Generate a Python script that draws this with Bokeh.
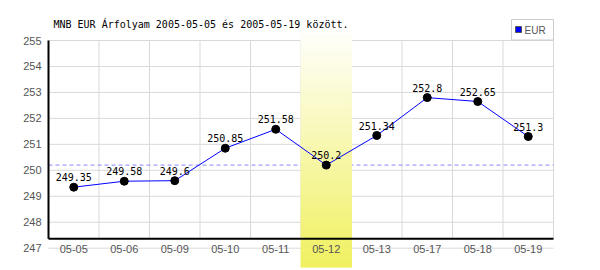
import numpy as np
from bokeh.plotting import figure
from bokeh.models import Range1d, FixedTicker, LinearAxis
from bokeh.core.properties import value
from bokeh.embed import file_html
from bokeh.resources import INLINE

# ---------------- data ----------------
title_text = "MNB EUR Árfolyam 2005-05-05 és 2005-05-19 között."
dates = ["05-05", "05-06", "05-09", "05-10", "05-11",
         "05-12", "05-13", "05-17", "05-18", "05-19"]
rates = [249.35, 249.58, 249.6, 250.85, 251.58,
         250.2, 251.34, 252.8, 252.65, 251.3]
y_ticks = [247, 248, 249, 250, 251, 252, 253, 254, 255]
highlight_date = "05-12"
reference_rate = 250.2
series_name = "EUR"

# ---------------- layout (screen px) ----------------
W, H = 600, 270
FRAME_L, FRAME_R, FRAME_T, FRAME_B = 46, 555, 17, 267
GRID_L = 48          # screen x of first category boundary
CAT_W = 50.5         # px per category
GRID_TOP_SY = 40     # screen y of top tick
Y_PX = 25.96         # px per unit
AXIS_SY = 238.3      # screen y of black x axis line
BAND_TOP_SY = 25

n = len(dates)


def sx_to_data(sx):
    return (sx - GRID_L) / CAT_W


def sy_to_data(sy):
    return y_ticks[-1] - (sy - GRID_TOP_SY) / Y_PX


x_range = Range1d(sx_to_data(FRAME_L), sx_to_data(FRAME_R))
y_range = Range1d(sy_to_data(FRAME_B), sy_to_data(FRAME_T))

p = figure(width=W, height=H, x_range=x_range, y_range=y_range,
           toolbar_location=None, output_backend="svg",
           x_axis_location=None, y_axis_location=None,
           min_border_left=FRAME_L, min_border_right=W - FRAME_R,
           min_border_top=FRAME_T, min_border_bottom=H - FRAME_B)
p.grid.visible = False
p.outline_line_color = None
p.background_fill_color = "white"
p.border_fill_color = "white"

grid_color = "#d9d9d9"
axis_y = sy_to_data(AXIS_SY)
xs = np.arange(n) + 0.5

# horizontal grid lines
p.segment(x0=[0] * len(y_ticks), x1=[n] * len(y_ticks), y0=y_ticks, y1=y_ticks,
          line_color=grid_color, line_width=1)
# vertical grid lines
bounds = np.arange(1, n + 1)
p.segment(x0=bounds, x1=bounds, y0=[axis_y] * n, y1=[y_ticks[-1]] * n,
          line_color=grid_color, line_width=1)
# reference dashed line
p.segment(x0=[0], x1=[n], y0=[reference_rate], y1=[reference_rate],
          line_color="#8888ff", line_width=1, line_dash="4 3")

# highlight band with vertical gradient
idx = dates.index(highlight_date)
N = 60
edges = np.linspace(sy_to_data(FRAME_B), sy_to_data(BAND_TOP_SY), N + 1)
bottom_rgb = np.array([240, 240, 96])
top_rgb = np.array([255, 255, 255])
cols = []
for i in range(N):
    t = (i + 0.5) / N
    c = bottom_rgb * (1 - t) + top_rgb * t
    cols.append("#%02x%02x%02x" % tuple(int(round(v)) for v in c))
p.quad(left=[idx] * N, right=[idx + 1] * N, bottom=edges[:-1], top=edges[1:],
       fill_color=cols, line_color=cols, line_width=1)

# black axis lines
p.segment(x0=[0], x1=[0], y0=[axis_y], y1=[y_ticks[-1]], line_color="black", line_width=2)
p.segment(x0=[0], x1=[n], y0=[axis_y], y1=[axis_y], line_color="black", line_width=2)

# data
p.line(xs, rates, line_color="#0000ff", line_width=1)
p.scatter(xs, rates, size=8, fill_color="black", line_color="black")
p.text(x=xs, y=np.array(rates) + 10 / Y_PX, text=[f"{v:g}" for v in rates],
       text_align="center", text_baseline="middle",
       text_font=value("DejaVu Sans Mono"), text_font_size="10px", text_color="black")

# x tick labels
p.text(x=xs, y=[sy_to_data(248)] * n, text=dates,
       text_align="center", text_baseline="middle",
       text_font=value("Liberation Sans"), text_font_size="11px", text_color="#555555")

# title
p.text(x=[sx_to_data(53)], y=[sy_to_data(23.5)], text=[title_text],
       text_align="left", text_baseline="middle",
       text_font=value("DejaVu Sans Mono"), text_font_size="10px", text_color="black")

# y axis (labels only)
yaxis = LinearAxis(ticker=FixedTicker(ticks=y_ticks),
                   axis_line_color=None, major_tick_line_color=None,
                   minor_tick_line_color=None, major_tick_out=0, major_tick_in=0,
                   major_label_standoff=5,
                   major_label_text_font="Liberation Sans",
                   major_label_text_font_size="11px",
                   major_label_text_color="#555555")
p.add_layout(yaxis, "left")

# legend box (drawn with glyphs)
LEG_L, LEG_R, LEG_T, LEG_B = 511, 553, 19, 39.5
p.quad(left=[sx_to_data(LEG_L)], right=[sx_to_data(LEG_R)],
       top=[sy_to_data(LEG_T)], bottom=[sy_to_data(LEG_B)],
       fill_color="white", line_color="#cccccc", line_width=1)
p.quad(left=[sx_to_data(515)], right=[sx_to_data(521)],
       top=[sy_to_data(26)], bottom=[sy_to_data(32)],
       fill_color="#0000ff", line_color="#555555", line_width=1)
p.text(x=[sx_to_data(524)], y=[sy_to_data(29.5)], text=[series_name],
       text_align="left", text_baseline="middle",
       text_font=value("Liberation Sans"), text_font_size="10px", text_color="#555555")

open("out.html", "w").write(file_html(p, INLINE))
